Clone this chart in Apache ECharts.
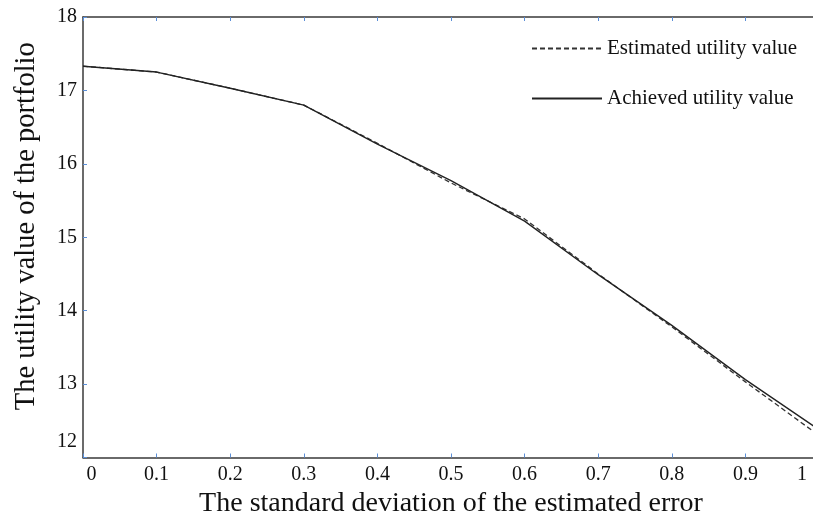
<!DOCTYPE html>
<html>
<head>
<meta charset="utf-8">
<script src="https://cdn.jsdelivr.net/npm/echarts@6/dist/echarts.min.js"></script>
<style>html,body{margin:0;padding:0;background:#fff}#c{width:813px;height:519px}</style>
</head>
<body>
<div id="c"></div>
<script>
var xValues = [0, 0.1, 0.2, 0.3, 0.4, 0.5, 0.6, 0.7, 0.8, 0.9, 1.0];
var estimated = [17.33, 17.25, 17.03, 16.80, 16.28, 15.74, 15.25, 14.50, 13.78, 13.03, 12.30];
var achieved  = [17.33, 17.25, 17.03, 16.80, 16.27, 15.77, 15.22, 14.49, 13.80, 13.06, 12.38];
var seriesNames = ['Estimated utility value', 'Achieved utility value'];
var xTitle = 'The standard deviation of the estimated error';
var yTitle = 'The utility value of the portfolio';

function pairs(ys){ return xValues.map(function(x,i){ return [x, ys[i]]; }); }

var FONT = '"Liberation Serif", "Times New Roman", serif';
var tickBlue = '#5b8fd8';
var axisGray = '#3a3a3a';

var chart = echarts.init(document.getElementById('c'), null, {renderer:'canvas'});
chart.setOption({
  animation: false,
  backgroundColor: '#fff',
  grid: {left: 83, right: -6, top: 17, bottom: 61.5, containLabel: false, outerBoundsMode: 'none'},
  legend: {
    orient: 'vertical', left: 526, top: 33, itemWidth: 70, itemHeight: 14, itemGap: 29,
    textStyle: {fontFamily: FONT, fontSize: 21, color: '#111', lineHeight: 21},
    itemStyle: {opacity: 0},
    data: seriesNames
  },
  xAxis: [{
    type: 'value', min: 0, max: 1, interval: 0.1, position: 'bottom',
    name: xTitle, nameLocation: 'middle', nameGap: 30,
    nameTextStyle: {fontFamily: FONT, fontSize: 28, color: '#111'},
    axisLine: {show: true, onZero: false, lineStyle: {color: axisGray, width: 1.5}},
    axisTick: {show: true, inside: true, length: 4, lineStyle: {color: tickBlue, width: 1}},
    splitLine: {show: false},
    axisLabel: {
      fontFamily: FONT, fontSize: 20, color: '#111', margin: 7,
      formatter: function(v){
        var s = String(Math.round(v*10)/10);
        if (v === 0) return '{l|' + s + '}';
        if (v === 1) return '{r|' + s + '}';
        return s;
      },
      rich: {
        l: {fontFamily: FONT, fontSize: 20, color: '#111', padding: [0,0,0,17]},
        r: {fontFamily: FONT, fontSize: 20, color: '#111', padding: [0,34,0,0]}
      }
    }
  }, {
    type: 'value', min: 0, max: 1, interval: 0.1, position: 'top',
    axisLine: {show: true, onZero: false, lineStyle: {color: axisGray, width: 1.5}},
    axisTick: {show: true, inside: true, length: 4, lineStyle: {color: tickBlue, width: 1}},
    axisLabel: {show: false}, splitLine: {show: false}
  }],
  yAxis: {
    type: 'value', min: 12, max: 18, interval: 1,
    name: yTitle, nameLocation: 'middle', nameGap: 42, nameRotate: 90,
    nameTextStyle: {fontFamily: FONT, fontSize: 28.5, color: '#111', padding: [0,0,0,22]},
    axisLine: {show: true, onZero: false, lineStyle: {color: axisGray, width: 1.5}},
    axisTick: {show: true, inside: true, length: 4, lineStyle: {color: tickBlue, width: 1}},
    splitLine: {show: false},
    axisLabel: {
      fontFamily: FONT, fontSize: 20, color: '#111', margin: 6,
      formatter: function(v){ return v === 12 ? '{b|' + v + '}' : String(v); },
      rich: {b: {fontFamily: FONT, fontSize: 20, color: '#111', padding: [0,0,32,0]}}
    }
  },
  series: [{
    name: seriesNames[0], type: 'line', data: pairs(estimated), symbol: 'none',
    lineStyle: {color: '#333', width: 1.3, type: [5, 3]}, itemStyle: {color: '#333'}
  }, {
    name: seriesNames[1], type: 'line', data: pairs(achieved), symbol: 'none',
    lineStyle: {color: '#222', width: 1.4, type: 'solid'}, itemStyle: {color: '#222'}
  }]
});
</script>
</body>
</html>
